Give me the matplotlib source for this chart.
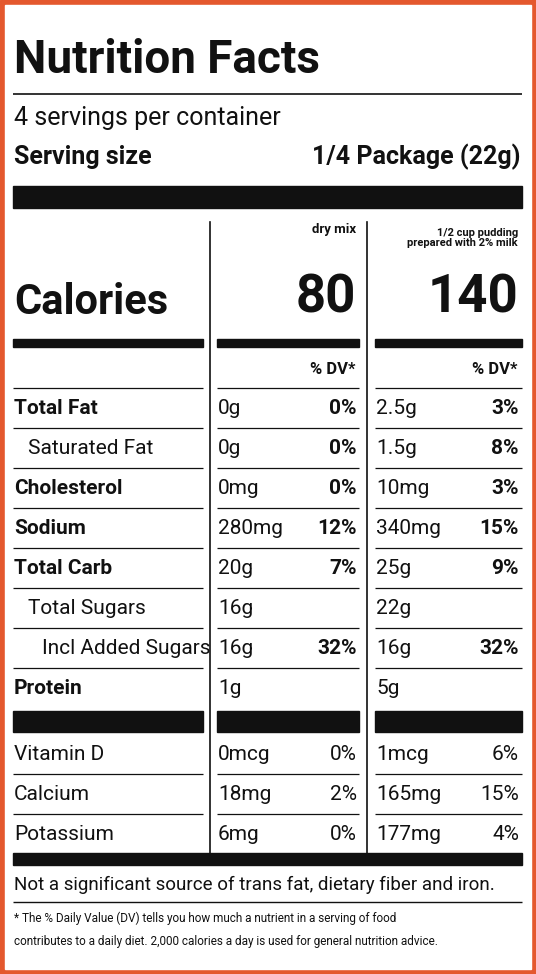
import matplotlib
matplotlib.use("Agg")
import matplotlib.pyplot as plt
from matplotlib.patches import Rectangle

title = "Nutrition Facts"
servings = "4 servings per container"
serving_size = "1/4 Package (22g)"
col_heads = ["dry mix", "1/2 cup pudding\nprepared with 2% milk"]
calories = ["80", "140"]
nutrients = ["Total Fat", "Saturated Fat", "Cholesterol", "Sodium", "Total Carb",
             "Total Sugars", "Incl Added Sugars", "Protein"]
indent = [0, 1, 0, 0, 0, 1, 2, 0]
bold_row = [True, False, True, True, True, False, False, True]
dry_amt = ["0g", "0g", "0mg", "280mg", "20g", "16g", "16g", "1g"]
dry_dv = ["0%", "0%", "0%", "12%", "7%", "", "32%", ""]
prep_amt = ["2.5g", "1.5g", "10mg", "340mg", "25g", "22g", "16g", "5g"]
prep_dv = ["3%", "8%", "3%", "15%", "9%", "", "32%", ""]
vitamins = ["Vitamin D", "Calcium", "Potassium"]
vit_dry_amt = ["0mcg", "18mg", "6mg"]
vit_dry_dv = ["0%", "2%", "0%"]
vit_prep_amt = ["1mcg", "165mg", "177mg"]
vit_prep_dv = ["6%", "15%", "4%"]
foot1 = "Not a significant source of trans fat, dietary fiber and iron."
foot2 = ["* The % Daily Value (DV) tells you how much a nutrient in a serving of food",
         "contributes to a daily diet. 2,000 calories a day is used for general nutrition advice."]

FAM = ["Roboto", "DejaVu Sans"]
fig = plt.figure(figsize=(5.36, 9.74), dpi=100)
ax = fig.add_axes([0, 0, 1, 1])
ax.set_xlim(0, 536); ax.set_ylim(974, 0); ax.axis("off")
ax.add_patch(Rectangle((0, 0), 536, 974, color="#E4582E"))
ax.add_patch(Rectangle((5, 5), 526, 964, color="white"))

def T(x, y, s, size, bold=False, ha="left", **kw):
    ax.text(x, y, s, fontsize=size, fontweight="bold" if bold else "normal",
            ha=ha, va="center", family=FAM, color="#111", **kw)

def H(y, x0, x1, lw):
    ax.plot([x0, x1], [y, y], color="#111", lw=lw, solid_capstyle="butt")

L0, L1 = 13, 522
segs = [(13, 203), (217, 359), (375, 522)]
T(14, 60, title, 33, True)
H(94, L0, L1, 1.2)
T(14, 118, servings, 18)
T(14, 157, "Serving size", 18, True)
T(520, 157, serving_size, 18, True, ha="right")
ax.add_patch(Rectangle((L0, 186), L1 - L0, 22, color="#111"))
for x in (210, 367):
    ax.plot([x, x], [222, 856], color="#111", lw=1.2)
T(356, 230, col_heads[0], 9.5, True, ha="right")
T(518, 238, col_heads[1], 8, True, ha="right", linespacing=1.1)
T(14, 302, "Calories", 30, True)
T(356, 298, calories[0], 38, True, ha="right")
T(518, 298, calories[1], 38, True, ha="right")
for a, b in segs:
    ax.add_patch(Rectangle((a, 339), b - a, 8, color="#111"))
T(356, 370, "% DV*", 12, True, ha="right")
T(518, 370, "% DV*", 12, True, ha="right")
for a, b in segs:
    H(388, a, b, 0.9)
for i, n in enumerate(nutrients):
    y = 408 + 40 * i
    T(14 + 14 * indent[i], y, n, 15, bold_row[i])
    T(218, y, dry_amt[i], 15)
    T(357, y, dry_dv[i], 15, True, ha="right")
    T(376, y, prep_amt[i], 15)
    T(519, y, prep_dv[i], 15, True, ha="right")
    if i < len(nutrients) - 1:
        for a, b in segs:
            H(y + 20, a, b, 0.9)
for a, b in segs:
    ax.add_patch(Rectangle((a, 711), b - a, 21, color="#111"))
for i, n in enumerate(vitamins):
    y = 754 + 40 * i
    T(14, y, n, 15)
    T(218, y, vit_dry_amt[i], 15)
    T(357, y, vit_dry_dv[i], 15, ha="right")
    T(376, y, vit_prep_amt[i], 15)
    T(519, y, vit_prep_dv[i], 15, ha="right")
    if i < 2:
        for a, b in segs:
            H(y + 20, a, b, 0.9)
ax.add_patch(Rectangle((L0, 853), L1 - L0, 12, color="#111"))
T(14, 885, foot1, 13.5)
H(902, L0, L1, 1.0)
T(14, 918, foot2[0], 8.5)
T(14, 942, foot2[1], 8.5)
fig.savefig("out.png", dpi=100)
